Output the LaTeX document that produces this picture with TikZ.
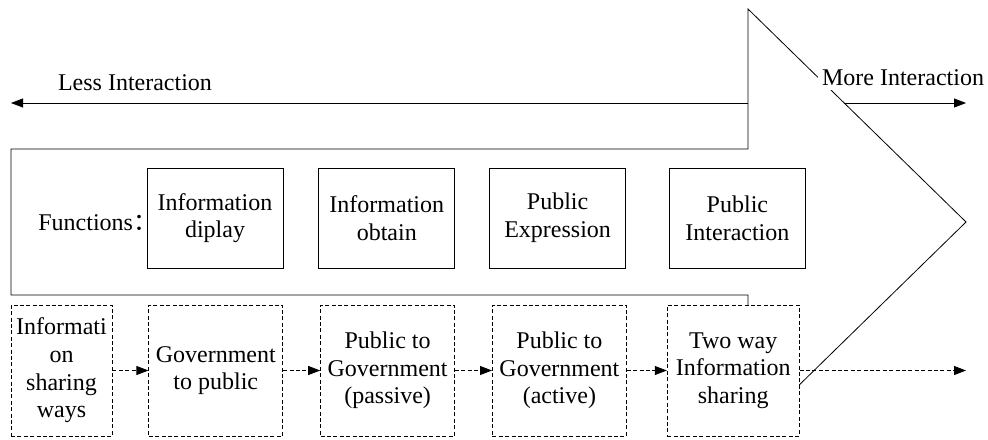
\documentclass[tikz,border=0pt]{standalone}
\usepackage{fontspec}
\setmainfont{Liberation Serif}
\newfontfamily\cjk{Noto Sans CJK SC}
\usetikzlibrary{arrows.meta,positioning}

\begin{document}
\begin{tikzpicture}[x=0.5pt,y=-0.5pt,font=\fontsize{12}{13.8}\selectfont,
        funcbox/.style={draw,fill=white,align=center,minimum width=68pt,minimum height=50pt,inner sep=0pt},
        waybox/.style={draw,dash pattern=on 2pt off 1.2pt,fill=white,align=center,minimum width=67pt,minimum height=65.5pt,inner sep=0pt},
        tip/.style={-{Triangle[length=6pt,width=4.5pt]}},
        flow/.style={tip,dash pattern=on 2pt off 1.2pt}]
        \useasboundingbox (0,0) rectangle (988,439);
        % big arrow behind everything
        \draw (11,149) -- (748,149) -- (748,9) -- (966,222) -- (748,435) -- (748,295) -- (11,295) -- cycle;
        \coordinate (lessstart) at (748,103);
        \coordinate (lessend) at (11,103);
        \coordinate (morestart) at (844,103);
        \coordinate (moreend) at (966,103);
        \draw[tip] (lessstart) -- (lessend);
        \draw[tip] (morestart) -- (moreend);
        \node (less) at (135,83) {Less Interaction};
        \node[fill=white,inner sep=2pt] (more) at (903,78) {More Interaction};
        % functions
        \node[anchor=west,inner sep=0pt] (funcs) at (38,223) {Functions{\cjk ：}};
        \node[funcbox] (fdisplay) at (215,218) {Information\\diplay};
        \node[funcbox,right=17.5pt of fdisplay] (fobtain) {Information\\obtain};
        \node[funcbox,right=17pt of fobtain] (fexpress) {Public\\Expression};
        \node[funcbox,right=21.5pt of fexpress] (finteract) {Public\\Interaction};
        % sharing ways
        \node[waybox,minimum width=50.5pt] (wshare) at (61.5,370.5) {Informati\\on\\sharing\\ways};
        \node[waybox,right=18pt of wshare] (wgovpub) {Government\\to public};
        \node[waybox,right=18.5pt of wgovpub] (wpassive) {Public to\\Government\\(passive)};
        \node[waybox,right=18.5pt of wpassive] (wactive) {Public to\\Government\\(active)};
        \node[waybox,minimum width=66pt,right=20pt of wactive] (wtwoway) {Two way\\Information\\sharing};
        \coordinate (flowend) at (966,370.5);
        \draw[flow] (wshare) -- (wgovpub);
        \draw[flow] (wgovpub) -- (wpassive);
        \draw[flow] (wpassive) -- (wactive);
        \draw[flow] (wactive) -- (wtwoway);
        \draw[flow] (wtwoway) -- (flowend);
\end{tikzpicture}
\end{document}
